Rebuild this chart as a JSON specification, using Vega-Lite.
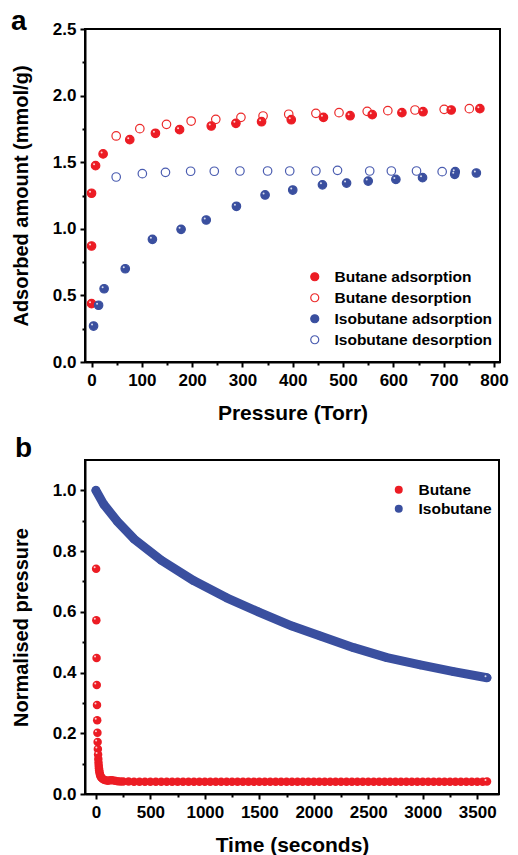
{
  "$schema": "https://vega.github.io/schema/vega-lite/v6.json",
  "background": "white",
  "padding": {"top": 7, "left": 10, "right": 0, "bottom": 0},
  "spacing": 10,
  "config": {
    "font": "Liberation Sans",
    "view": {"stroke": "black", "strokeWidth": 2},
    "axis": {
      "grid": false,
      "labelFont": "Liberation Sans",
      "labelFontWeight": "bold",
      "labelFontSize": 17,
      "labelColor": "black",
      "titleFont": "Liberation Sans",
      "titleFontWeight": "bold",
      "titleFontSize": 21,
      "titleColor": "black",
      "domainColor": "black",
      "domainWidth": 2,
      "tickColor": "black",
      "tickWidth": 2,
      "labelPadding": 5,
      "labelOverlap": false,
      "labelFlush": false
    },
    "axisY": {"titleFontSize": 20, "titlePadding": 21, "labelPadding": 4},
    "axisX": {"titlePadding": 14},
    "legend": {
      "labelFont": "Liberation Sans",
      "labelFontWeight": "bold",
      "labelFontSize": 15.5,
      "labelColor": "black",
      "labelLimit": 0,
      "rowPadding": 4,
      "symbolStrokeWidth": 1.2
    },
    "title": {"font": "Liberation Sans", "fontWeight": "bold", "fontSize": 28, "color": "black"}
  },
  "vconcat": [
    {
      "width": 415,
      "height": 333,
      "title": {"text": "a", "anchor": "start", "frame": "group", "dx": -74, "baseline": "alphabetic", "offset": -38},
      "data": {"values": [
        {"p": 0, "v": 0.438, "s": "Butane adsorption"},
        {"p": 0, "v": 0.871, "s": "Butane adsorption"},
        {"p": 0, "v": 1.267, "s": "Butane adsorption"},
        {"p": 8, "v": 1.474, "s": "Butane adsorption"},
        {"p": 23, "v": 1.562, "s": "Butane adsorption"},
        {"p": 76, "v": 1.669, "s": "Butane adsorption"},
        {"p": 127, "v": 1.717, "s": "Butane adsorption"},
        {"p": 175, "v": 1.744, "s": "Butane adsorption"},
        {"p": 238, "v": 1.772, "s": "Butane adsorption"},
        {"p": 287, "v": 1.792, "s": "Butane adsorption"},
        {"p": 338, "v": 1.804, "s": "Butane adsorption"},
        {"p": 397, "v": 1.819, "s": "Butane adsorption"},
        {"p": 461, "v": 1.837, "s": "Butane adsorption"},
        {"p": 514, "v": 1.849, "s": "Butane adsorption"},
        {"p": 558, "v": 1.857, "s": "Butane adsorption"},
        {"p": 617, "v": 1.872, "s": "Butane adsorption"},
        {"p": 659, "v": 1.879, "s": "Butane adsorption"},
        {"p": 715, "v": 1.892, "s": "Butane adsorption"},
        {"p": 772, "v": 1.902, "s": "Butane adsorption"},
        {"p": 49, "v": 1.697, "s": "Butane desorption"},
        {"p": 96, "v": 1.752, "s": "Butane desorption"},
        {"p": 149, "v": 1.784, "s": "Butane desorption"},
        {"p": 198, "v": 1.809, "s": "Butane desorption"},
        {"p": 247, "v": 1.822, "s": "Butane desorption"},
        {"p": 297, "v": 1.837, "s": "Butane desorption"},
        {"p": 341, "v": 1.847, "s": "Butane desorption"},
        {"p": 392, "v": 1.86, "s": "Butane desorption"},
        {"p": 446, "v": 1.867, "s": "Butane desorption"},
        {"p": 492, "v": 1.872, "s": "Butane desorption"},
        {"p": 548, "v": 1.882, "s": "Butane desorption"},
        {"p": 589, "v": 1.887, "s": "Butane desorption"},
        {"p": 643, "v": 1.892, "s": "Butane desorption"},
        {"p": 701, "v": 1.897, "s": "Butane desorption"},
        {"p": 751, "v": 1.902, "s": "Butane desorption"},
        {"p": 4, "v": 0.27, "s": "Isobutane adsorption"},
        {"p": 14, "v": 0.426, "s": "Isobutane adsorption"},
        {"p": 25, "v": 0.55, "s": "Isobutane adsorption"},
        {"p": 67, "v": 0.7, "s": "Isobutane adsorption"},
        {"p": 121, "v": 0.921, "s": "Isobutane adsorption"},
        {"p": 178, "v": 0.996, "s": "Isobutane adsorption"},
        {"p": 228, "v": 1.066, "s": "Isobutane adsorption"},
        {"p": 288, "v": 1.169, "s": "Isobutane adsorption"},
        {"p": 345, "v": 1.254, "s": "Isobutane adsorption"},
        {"p": 400, "v": 1.291, "s": "Isobutane adsorption"},
        {"p": 459, "v": 1.33, "s": "Isobutane adsorption"},
        {"p": 507, "v": 1.343, "s": "Isobutane adsorption"},
        {"p": 550, "v": 1.358, "s": "Isobutane adsorption"},
        {"p": 605, "v": 1.371, "s": "Isobutane adsorption"},
        {"p": 658, "v": 1.384, "s": "Isobutane adsorption"},
        {"p": 722, "v": 1.409, "s": "Isobutane adsorption"},
        {"p": 723, "v": 1.429, "s": "Isobutane adsorption"},
        {"p": 765, "v": 1.419, "s": "Isobutane adsorption"},
        {"p": 49, "v": 1.389, "s": "Isobutane desorption"},
        {"p": 101, "v": 1.414, "s": "Isobutane desorption"},
        {"p": 147, "v": 1.424, "s": "Isobutane desorption"},
        {"p": 197, "v": 1.432, "s": "Isobutane desorption"},
        {"p": 244, "v": 1.432, "s": "Isobutane desorption"},
        {"p": 295, "v": 1.434, "s": "Isobutane desorption"},
        {"p": 350, "v": 1.434, "s": "Isobutane desorption"},
        {"p": 394, "v": 1.434, "s": "Isobutane desorption"},
        {"p": 446, "v": 1.434, "s": "Isobutane desorption"},
        {"p": 489, "v": 1.439, "s": "Isobutane desorption"},
        {"p": 553, "v": 1.434, "s": "Isobutane desorption"},
        {"p": 596, "v": 1.434, "s": "Isobutane desorption"},
        {"p": 646, "v": 1.434, "s": "Isobutane desorption"},
        {"p": 697, "v": 1.429, "s": "Isobutane desorption"}
      ]},
      "encoding": {
        "x": {
          "field": "p", "type": "quantitative",
          "scale": {"domain": [-13, 812], "nice": false, "zero": false},
          "axis": {
            "title": "Pressure (Torr)",
            "values": [0, 50, 100, 150, 200, 250, 300, 350, 400, 450, 500, 550, 600, 650, 700, 750, 800],
            "labelExpr": "datum.value % 100 === 0 ? format(datum.value, 'd') : ''",
            "tickSize": {"condition": {"test": "datum.value % 100 !== 0", "value": 3}, "value": 5}
          }
        },
        "y": {
          "field": "v", "type": "quantitative",
          "scale": {"domain": [0, 2.5], "nice": false},
          "axis": {
            "title": "Adsorbed amount (mmol/g)",
            "values": [0, 0.25, 0.5, 0.75, 1, 1.25, 1.5, 1.75, 2, 2.25, 2.5],
            "labelExpr": "datum.value % 0.5 === 0 ? format(datum.value, '.1f') : ''",
            "tickSize": {"condition": {"test": "datum.value % 0.5 !== 0", "value": 3}, "value": 5}
          }
        }
      },
      "layer": [
        {
          "mark": {"type": "circle", "size": 72, "strokeWidth": 1.2, "opacity": 1},
          "encoding": {
            "fill": {
              "field": "s", "type": "nominal",
              "scale": {
                "domain": ["Butane adsorption", "Butane desorption", "Isobutane adsorption", "Isobutane desorption"],
                "range": ["#ec1c24", "transparent", "#3a4f9f", "transparent"]
              },
              "legend": {"title": null, "orient": "none", "legendX": 222, "legendY": 240, "labelOffset": 12, "symbolSize": 64}
            },
            "stroke": {
              "field": "s", "type": "nominal",
              "scale": {
                "domain": ["Butane adsorption", "Butane desorption", "Isobutane adsorption", "Isobutane desorption"],
                "range": ["#ec1c24", "#ec2a2a", "#3a4f9f", "#4a5cb0"]
              },
              "legend": {"title": null, "orient": "none", "legendX": 222, "legendY": 240, "labelOffset": 12, "symbolSize": 64}
            }
          }
        },
        {
          "transform": [{"filter": "indexof(datum.s, 'adsorption') >= 0"}],
          "mark": {"type": "circle", "size": 4, "color": "white", "opacity": 0.8, "xOffset": -1.5, "yOffset": -1.5},
          "encoding": {}
        }
      ]
    },
    {
      "width": 414,
      "height": 334,
      "title": {"text": "b", "anchor": "start", "frame": "group", "dx": -70, "baseline": "alphabetic", "offset": -25},
      "data": {"values": [
        {"t": 2, "v": 0.742, "g": "Butane"},
        {"t": 4, "v": 0.572, "g": "Butane"},
        {"t": 6, "v": 0.448, "g": "Butane"},
        {"t": 8, "v": 0.359, "g": "Butane"},
        {"t": 10, "v": 0.293, "g": "Butane"},
        {"t": 12, "v": 0.243, "g": "Butane"},
        {"t": 14, "v": 0.202, "g": "Butane"},
        {"t": 16, "v": 0.171, "g": "Butane"},
        {"t": 18, "v": 0.148, "g": "Butane"},
        {"t": 20, "v": 0.13, "g": "Butane"},
        {"t": 22, "v": 0.115, "g": "Butane"},
        {"t": 24, "v": 0.103, "g": "Butane"},
        {"t": 26, "v": 0.093, "g": "Butane"},
        {"t": 28, "v": 0.085, "g": "Butane"},
        {"t": 30, "v": 0.078, "g": "Butane"},
        {"t": 33, "v": 0.072, "g": "Butane"},
        {"t": 36, "v": 0.066, "g": "Butane"},
        {"t": 40, "v": 0.061, "g": "Butane"},
        {"t": 45, "v": 0.057, "g": "Butane"},
        {"t": 50, "v": 0.054, "g": "Butane"},
        {"t": 60, "v": 0.05, "g": "Butane"},
        {"t": 75, "v": 0.047, "g": "Butane"},
        {"t": 90, "v": 0.045, "g": "Butane"},
        {"t": 110, "v": 0.044, "g": "Butane"},
        {"t": 130, "v": 0.045, "g": "Butane"},
        {"t": 150, "v": 0.045, "g": "Butane"},
        {"t": 175, "v": 0.044, "g": "Butane"},
        {"t": 200, "v": 0.042, "g": "Butane"},
        {"t": 225, "v": 0.041, "g": "Butane"},
        {"t": 250, "v": 0.041, "g": "Butane"},
        {"t": 300, "v": 0.041, "g": "Butane"},
        {"t": 350, "v": 0.04, "g": "Butane"},
        {"t": 400, "v": 0.04, "g": "Butane"},
        {"t": 450, "v": 0.04, "g": "Butane"},
        {"t": 500, "v": 0.04, "g": "Butane"},
        {"t": 550, "v": 0.04, "g": "Butane"},
        {"t": 600, "v": 0.04, "g": "Butane"},
        {"t": 650, "v": 0.04, "g": "Butane"},
        {"t": 700, "v": 0.04, "g": "Butane"},
        {"t": 750, "v": 0.04, "g": "Butane"},
        {"t": 800, "v": 0.04, "g": "Butane"},
        {"t": 850, "v": 0.04, "g": "Butane"},
        {"t": 900, "v": 0.04, "g": "Butane"},
        {"t": 950, "v": 0.04, "g": "Butane"},
        {"t": 1000, "v": 0.04, "g": "Butane"},
        {"t": 1050, "v": 0.04, "g": "Butane"},
        {"t": 1100, "v": 0.04, "g": "Butane"},
        {"t": 1150, "v": 0.04, "g": "Butane"},
        {"t": 1200, "v": 0.04, "g": "Butane"},
        {"t": 1250, "v": 0.04, "g": "Butane"},
        {"t": 1300, "v": 0.04, "g": "Butane"},
        {"t": 1350, "v": 0.04, "g": "Butane"},
        {"t": 1400, "v": 0.04, "g": "Butane"},
        {"t": 1450, "v": 0.04, "g": "Butane"},
        {"t": 1500, "v": 0.04, "g": "Butane"},
        {"t": 1550, "v": 0.04, "g": "Butane"},
        {"t": 1600, "v": 0.04, "g": "Butane"},
        {"t": 1650, "v": 0.04, "g": "Butane"},
        {"t": 1700, "v": 0.04, "g": "Butane"},
        {"t": 1750, "v": 0.04, "g": "Butane"},
        {"t": 1800, "v": 0.04, "g": "Butane"},
        {"t": 1850, "v": 0.04, "g": "Butane"},
        {"t": 1900, "v": 0.04, "g": "Butane"},
        {"t": 1950, "v": 0.04, "g": "Butane"},
        {"t": 2000, "v": 0.04, "g": "Butane"},
        {"t": 2050, "v": 0.04, "g": "Butane"},
        {"t": 2100, "v": 0.04, "g": "Butane"},
        {"t": 2150, "v": 0.04, "g": "Butane"},
        {"t": 2200, "v": 0.04, "g": "Butane"},
        {"t": 2250, "v": 0.04, "g": "Butane"},
        {"t": 2300, "v": 0.04, "g": "Butane"},
        {"t": 2350, "v": 0.04, "g": "Butane"},
        {"t": 2400, "v": 0.04, "g": "Butane"},
        {"t": 2450, "v": 0.04, "g": "Butane"},
        {"t": 2500, "v": 0.04, "g": "Butane"},
        {"t": 2550, "v": 0.04, "g": "Butane"},
        {"t": 2600, "v": 0.04, "g": "Butane"},
        {"t": 2650, "v": 0.04, "g": "Butane"},
        {"t": 2700, "v": 0.04, "g": "Butane"},
        {"t": 2750, "v": 0.04, "g": "Butane"},
        {"t": 2800, "v": 0.04, "g": "Butane"},
        {"t": 2850, "v": 0.04, "g": "Butane"},
        {"t": 2900, "v": 0.04, "g": "Butane"},
        {"t": 2950, "v": 0.04, "g": "Butane"},
        {"t": 3000, "v": 0.04, "g": "Butane"},
        {"t": 3050, "v": 0.04, "g": "Butane"},
        {"t": 3100, "v": 0.04, "g": "Butane"},
        {"t": 3150, "v": 0.04, "g": "Butane"},
        {"t": 3200, "v": 0.04, "g": "Butane"},
        {"t": 3250, "v": 0.04, "g": "Butane"},
        {"t": 3300, "v": 0.04, "g": "Butane"},
        {"t": 3350, "v": 0.04, "g": "Butane"},
        {"t": 3400, "v": 0.04, "g": "Butane"},
        {"t": 3450, "v": 0.04, "g": "Butane"},
        {"t": 3500, "v": 0.04, "g": "Butane"},
        {"t": 3550, "v": 0.04, "g": "Butane"},
        {"t": 3590, "v": 0.041, "g": "Butane"},
        {"t": 0, "v": 1.0, "g": "Isobutane"},
        {"t": 72, "v": 0.954, "g": "Isobutane"},
        {"t": 194, "v": 0.899, "g": "Isobutane"},
        {"t": 350, "v": 0.84, "g": "Isobutane"},
        {"t": 600, "v": 0.77, "g": "Isobutane"},
        {"t": 900, "v": 0.702, "g": "Isobutane"},
        {"t": 1200, "v": 0.646, "g": "Isobutane"},
        {"t": 1490, "v": 0.6, "g": "Isobutane"},
        {"t": 1800, "v": 0.553, "g": "Isobutane"},
        {"t": 2060, "v": 0.52, "g": "Isobutane"},
        {"t": 2366, "v": 0.482, "g": "Isobutane"},
        {"t": 2672, "v": 0.449, "g": "Isobutane"},
        {"t": 2978, "v": 0.425, "g": "Isobutane"},
        {"t": 3284, "v": 0.403, "g": "Isobutane"},
        {"t": 3590, "v": 0.383, "g": "Isobutane"}
      ]},
      "encoding": {
        "x": {
          "field": "t", "type": "quantitative",
          "scale": {"domain": [-100, 3700], "nice": false, "zero": false},
          "axis": {
            "title": "Time (seconds)",
            "values": [0, 250, 500, 750, 1000, 1250, 1500, 1750, 2000, 2250, 2500, 2750, 3000, 3250, 3500],
            "labelExpr": "datum.value % 500 === 0 ? format(datum.value, 'd') : ''",
            "tickSize": {"condition": {"test": "datum.value % 500 !== 0", "value": 3}, "value": 5}
          }
        },
        "y": {
          "field": "v", "type": "quantitative",
          "scale": {"domain": [0, 1.1], "nice": false},
          "axis": {
            "title": "Normalised pressure",
            "values": [0, 0.1, 0.2, 0.3, 0.4, 0.5, 0.6, 0.7, 0.8, 0.9, 1.0],
            "labelExpr": "round(datum.value * 10) % 2 === 0 ? format(datum.value, '.1f') : ''",
            "tickSize": {"condition": {"test": "round(datum.value * 10) % 2 !== 0", "value": 3}, "value": 5}
          }
        }
      },
      "layer": [
        {
          "transform": [{"filter": "datum.g === 'Butane'"}],
          "mark": {"type": "circle", "size": 72, "opacity": 1},
          "encoding": {
            "color": {
              "field": "g", "type": "nominal",
              "scale": {"domain": ["Butane", "Isobutane"], "range": ["#ec1c24", "#3a4f9f"]},
              "legend": {"title": null, "orient": "none", "legendX": 306, "legendY": 453, "rowPadding": 2, "labelOffset": 12, "symbolSize": 64}
            }
          }
        },
        {
          "transform": [{"filter": "datum.g === 'Isobutane'"}],
          "mark": {"type": "line", "strokeWidth": 9, "strokeCap": "round", "strokeJoin": "round", "color": "#3a4f9f"},
          "encoding": {}
        },
        {
          "transform": [{"filter": "datum.g === 'Isobutane'"}],
          "mark": {"type": "circle", "size": 72, "opacity": 1},
          "encoding": {
            "color": {
              "field": "g", "type": "nominal",
              "scale": {"domain": ["Butane", "Isobutane"], "range": ["#ec1c24", "#3a4f9f"]},
              "legend": {"title": null, "orient": "none", "legendX": 306, "legendY": 453, "rowPadding": 2, "labelOffset": 12, "symbolSize": 64}
            }
          }
        },
        {
          "transform": [{"filter": "(datum.g === 'Butane' && datum.t <= 20) || datum.t >= 3590"}],
          "mark": {"type": "circle", "size": 4, "color": "white", "opacity": 0.8, "xOffset": -1.5, "yOffset": -1.5},
          "encoding": {}
        }
      ]
    }
  ]
}
